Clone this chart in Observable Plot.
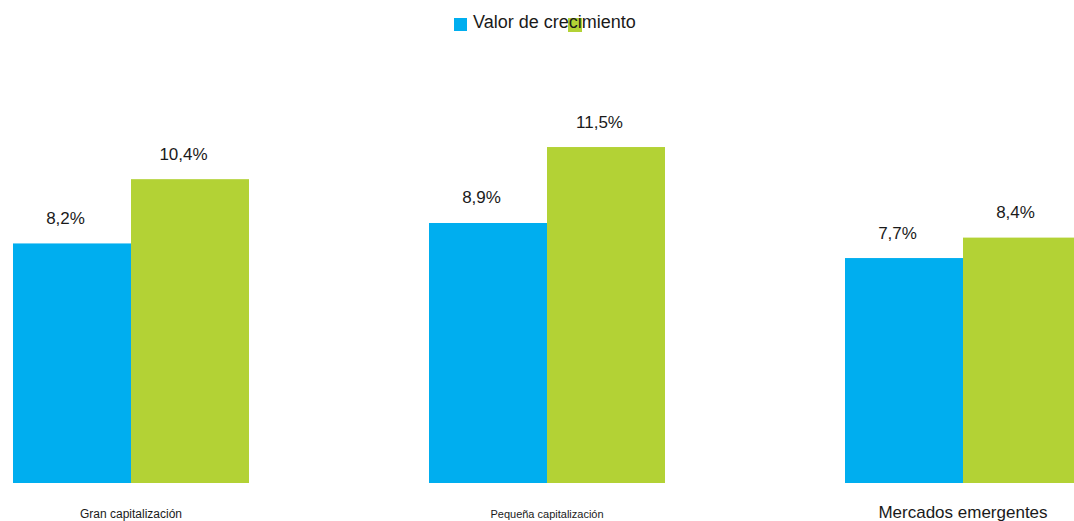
<!DOCTYPE html>
<html>
<head>
<meta charset="utf-8">
<script src="https://cdn.jsdelivr.net/npm/d3@7"></script>
<script src="https://cdn.jsdelivr.net/npm/@observablehq/plot@0.6"></script>
<style>
  html, body { margin: 0; padding: 0; background: #fff; }
  body { width: 1074px; height: 521px; overflow: hidden; font-family: "Liberation Sans", Arial, sans-serif; }
  #legend { position: relative; height: 40px; width: 1074px; }
  #legend .sw { position: absolute; width: 13px; height: 13px; top: 18px; }
  #legend .lbl { position: absolute; left: 473px; top: 11px; font-size: 18px; line-height: 22px; color: #1a1a1a; white-space: nowrap; }
</style>
</head>
<body>
<div id="legend"></div>
<div id="chart"></div>
<script>
// ---- data ----
const categories = ["Gran capitalización", "Pequeña capitalización", "Mercados emergentes"];
const series = ["Valor", "Crecimiento"];
const valor = [8.2, 8.9, 7.7];
const crecimiento = [10.4, 11.5, 8.4];
const legendText = "Valor de crecimiento";

// ---- styles ----
const colors = {"Valor": "#00aeef", "Crecimiento": "#b3d235"};
const categoryFontSize = {"Gran capitalización": 12, "Pequeña capitalización": 11, "Mercados emergentes": 17};

const rows = [];
categories.forEach((c, i) => {
  rows.push({cat: c, series: series[0], value: valor[i]});
  rows.push({cat: c, series: series[1], value: crecimiento[i]});
});

// legend (HTML, above the SVG)
const legend = document.getElementById("legend");
legend.innerHTML = `
  <div class="sw" style="left:454px;background:${colors["Valor"]}"></div>
  <div class="sw" style="left:568px;background:${colors["Crecimiento"]};width:14px;height:14px;"></div>
  <div class="lbl">${legendText}</div>`;

const fmt = v => v.toFixed(1).replace(".", ",") + "%";

const chart = Plot.plot({
  width: 1074,
  height: 481,
  marginTop: 34,
  marginBottom: 38,
  marginLeft: 12,
  marginRight: -7.5,
  style: {fontFamily: "Liberation Sans, Arial, sans-serif", background: "white"},
  fx: {domain: categories, paddingInner: 0.431, paddingOuter: 0, axis: null, label: null},
  x: {domain: series, padding: 0, axis: null},
  y: {domain: [0, 14], axis: null},
  color: {domain: series, range: series.map(s => colors[s])},
  marks: [
    Plot.barY(rows, {fx: "cat", x: "series", y: "value", fill: "series"}),
    Plot.text(rows, {fx: "cat", x: "series", y: "value", text: d => fmt(d.value),
      lineAnchor: "bottom", dy: -20, dx: -7, fontSize: 17, fill: "#1a1a1a"}),
    Plot.text(categories, {fx: d => d, text: d => d, frameAnchor: "bottom",
      lineAnchor: "bottom", dy: 34, fontSize: d => categoryFontSize[d], fill: "#1a1a1a"})
  ]
});
document.getElementById("chart").appendChild(chart);
</script>
</body>
</html>
